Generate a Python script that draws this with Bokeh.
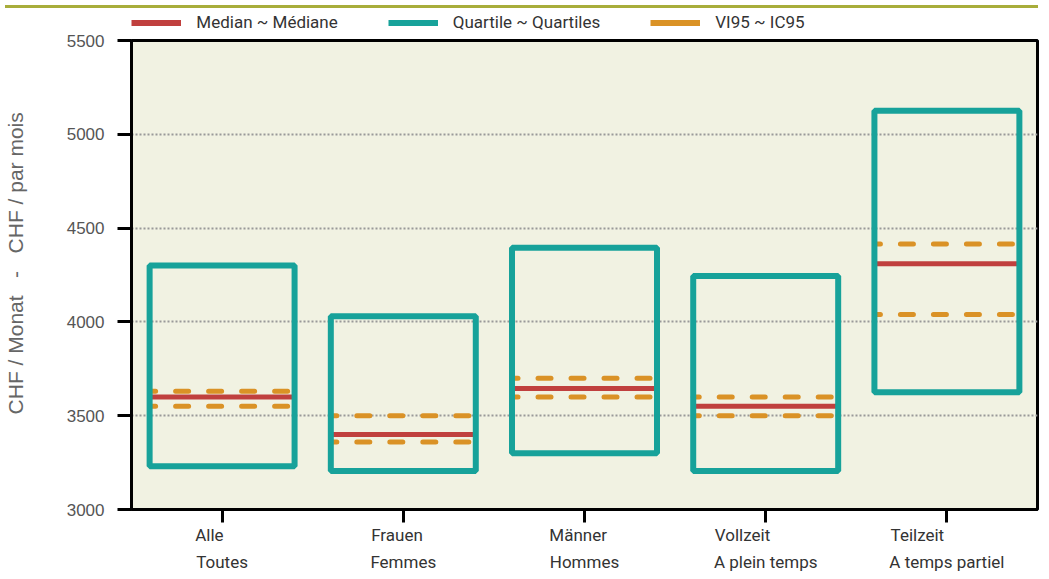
from bokeh.plotting import figure
from bokeh.models import (Range1d, FixedTicker, Legend, LegendItem, ColumnDataSource, Div)
from bokeh.layouts import column
from bokeh.embed import file_html
from bokeh.resources import INLINE

# ---- data ----
groups_de = ["Alle", "Frauen", "Männer", "Vollzeit", "Teilzeit"]
groups_fr = ["Toutes", "Femmes", "Hommes", "A plein temps", "A temps partiel"]
median = [3600, 3400, 3645, 3550, 4310]
q1 = [3230, 3205, 3300, 3205, 3625]
q3 = [4300, 4030, 4395, 4245, 5125]
ci_low = [3550, 3360, 3600, 3500, 4040]
ci_high = [3630, 3500, 3700, 3600, 4415]
y_ticks = [3000, 3500, 4000, 4500, 5000, 5500]
legend_labels = ["Median ~ Médiane", "Quartile ~ Quartiles", "VI95 ~ IC95"]
y_title = "CHF / Monat\u00a0\u00a0 -\u00a0\u00a0 CHF / par mois"

TEAL = "#17A29A"
RED = "#C0403E"
ORANGE = "#DA9226"
BG = "#F1F2E2"
OLIVE = "#A8AD3B"
NBSP = "\u00a0"

# approximate Roboto advance widths (em) used to left-align two-line labels
_W = {"A": .652, "l": .239, "e": .530, "T": .611, "o": .570, "u": .551, "t": .327,
      "s": .516, "F": .553, "r": .338, "a": .544, "n": .552, "m": .876, "M": .873,
      "ä": .544, "H": .713, "V": .636, "z": .496, "i": .243, "p": .560, " ": .248}


def text_w(s):
    return sum(_W.get(c, .55) for c in s)


def two_line(a, b):
    wa, wb = text_w(a), text_w(b)
    pad = round(abs(wa - wb) / _W[" "])
    if wa < wb:
        a = a + NBSP * pad
    else:
        b = b + NBSP * pad
    return f"{a}\n{b}"


n = len(groups_de)
xc = [i + 0.5 for i in range(n)]
half = 0.4
src = ColumnDataSource(dict(
    x=xc,
    left=[x - half for x in xc],
    right=[x + half for x in xc],
    median=median, q1=q1, q3=q3, lo=ci_low, hi=ci_high,
))

FRAME_W, LEFT, RIGHT = 906, 123, 4

# ---------- legend strip (own small figure) ----------
lg = figure(frame_width=FRAME_W, frame_height=19, output_backend="svg",
            toolbar_location=None, x_axis_type=None, y_axis_type=None,
            min_border_left=LEFT, min_border_right=RIGHT,
            min_border_top=0, min_border_bottom=0)
lg.outline_line_color = None
lg.background_fill_color = "white"
lg.border_fill_color = "white"
lg.xgrid.grid_line_color = None
lg.ygrid.grid_line_color = None
r_med = lg.line(x=xc[:1], y=median[:1], line_color=RED, line_width=6)
r_q = lg.line(x=xc[:1], y=q1[:1], line_color=TEAL, line_width=6)
r_ci = lg.line(x=xc[:1], y=ci_low[:1], line_color=ORANGE, line_width=6)
legend = Legend(items=[LegendItem(label=legend_labels[0], renderers=[r_med]),
                       LegendItem(label=legend_labels[1], renderers=[r_q]),
                       LegendItem(label=legend_labels[2], renderers=[r_ci])],
                orientation="horizontal", location=(89, 0),
                margin=0, padding=0, spacing=50, glyph_width=50, glyph_height=17,
                label_height=17, label_standoff=15,
                label_text_font="Roboto", label_text_font_size="17px",
                label_text_color="#333333",
                background_fill_alpha=0, border_line_alpha=0)
lg.add_layout(legend)

# ---------- main chart ----------
p = figure(frame_width=FRAME_W, frame_height=469, output_backend="svg", toolbar_location=None,
           x_range=Range1d(0, n), y_range=Range1d(3000, 5500),
           min_border_left=LEFT, min_border_right=RIGHT, min_border_top=8,
           min_border_bottom=64)
p.background_fill_color = BG
p.border_fill_color = "white"
p.outline_line_color = "black"
p.outline_line_width = 3

# CI dashed lines
for col in ("lo", "hi"):
    p.segment(x0="left", x1="right", y0=col, y1=col, source=src,
              line_color=ORANGE, line_width=5, line_dash="13 20",
              line_dash_offset=7, line_cap="round")
# median
p.segment(x0="left", x1="right", y0="median", y1="median", source=src,
          line_color=RED, line_width=5)
# quartile boxes
p.quad(left="left", right="right", bottom="q1", top="q3", source=src,
       fill_alpha=0, line_color=TEAL, line_width=6)

# x axis
p.xaxis.ticker = FixedTicker(ticks=xc)
p.xaxis.major_label_overrides = {x: two_line(d, f) for x, d, f in zip(xc, groups_de, groups_fr)}
p.xaxis.major_label_text_font = "Roboto"
p.xaxis.major_label_text_font_size = "17px"
p.xaxis.major_label_text_color = "#333333"
p.xaxis.major_label_text_line_height = 1.35
p.xaxis.major_label_standoff = 2
p.xaxis.major_tick_out = 13
p.xaxis.major_tick_in = 0
p.xaxis.major_tick_line_width = 3
p.xaxis.major_tick_line_color = "black"
p.xaxis.minor_tick_line_color = None
p.xaxis.axis_line_width = 3
p.xaxis.axis_line_color = "black"

# y axis
p.yaxis.ticker = FixedTicker(ticks=y_ticks)
p.yaxis.major_label_text_font = "Liberation Sans"
p.yaxis.major_label_text_font_size = "17px"
p.yaxis.major_label_text_color = "#555555"
p.yaxis.major_label_standoff = 13
p.yaxis.major_tick_out = 14
p.yaxis.major_tick_in = 0
p.yaxis.major_tick_line_width = 3
p.yaxis.major_tick_line_color = "black"
p.yaxis.minor_tick_line_color = None
p.yaxis.axis_line_width = 3
p.yaxis.axis_line_color = "black"
p.yaxis.axis_label = NBSP * 4 + y_title
p.yaxis.axis_label_text_font = "Liberation Sans"
p.yaxis.axis_label_text_font_size = "21px"
p.yaxis.axis_label_text_font_style = "normal"
p.yaxis.axis_label_text_color = "#666666"
p.yaxis.axis_label_standoff = 37

p.xgrid.grid_line_color = None
p.ygrid.grid_line_color = "#999999"
p.ygrid.grid_line_width = 2
p.ygrid.grid_line_dash = "2 2"

top_bar = Div(text="", width=LEFT + FRAME_W + RIGHT, height=3,
              styles={"background-color": OLIVE})
layout = column(top_bar, lg, p, spacing=0)

open("out.html", "w").write(file_html(layout, INLINE))
